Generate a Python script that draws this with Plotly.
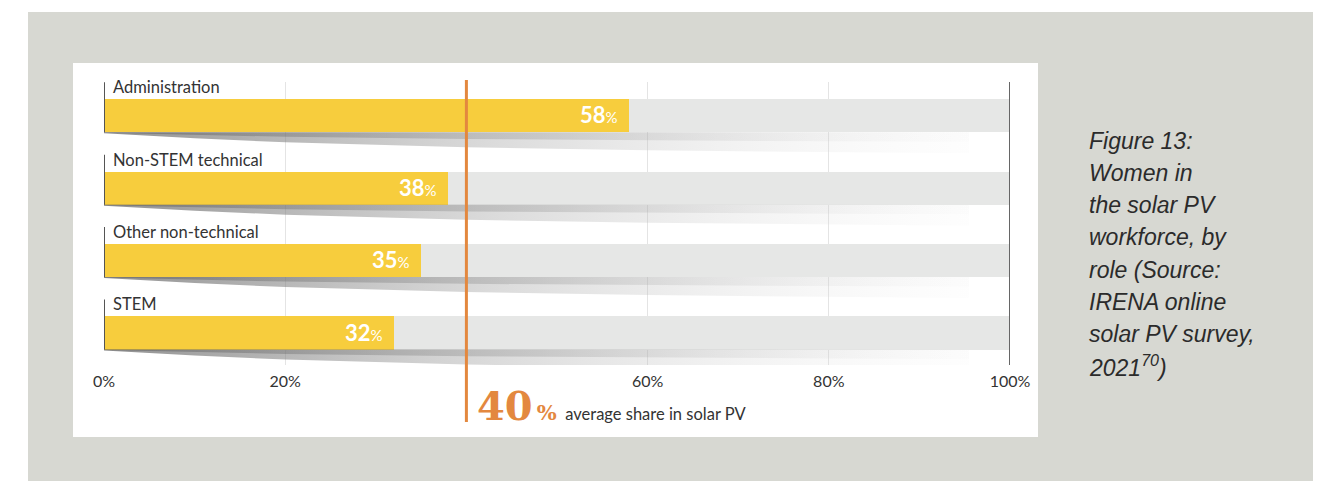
import plotly.graph_objects as go

# Women in the solar PV workforce, by role (%)
roles = ["Administration", "Non-STEM technical", "Other non-technical", "STEM"]
women_share = [58, 38, 35, 32]
avg_share = 40
tick_vals = [0, 20, 60, 80, 100]
tick_text = ["0%", "20%", "60%", "80%", "100%"]
caption_lines = ["Figure 13:", "Women in", "the solar PV", "workforce, by",
                 "role (Source:", "IRENA online", "solar PV survey,", "2021<sup>70</sup>)"]

W, H = 1322, 481
YELLOW = "#f7cd3d"
TRACK = "#e6e7e6"
ORANGE = "#e3883f"
TEXT = "#333333"
PANEL = "#d7d8d2"
BAR_W = 0.456
PX_PER_UNIT = 72.4


def py(px):
    # pixel row -> paper y
    return 1 - px / H


n = len(roles)
ypos = [n - 1 - i for i in range(n)]

fig = go.Figure()

# tapered shadow under every bar
shadow_x = [0, 10, 20, 40, 60, 80, 95.5]
shadow_depth = [1, 6, 10, 15, 18, 20, 21]
for y in ypos:
    yb = y - BAR_W / 2
    xs = shadow_x + [95.5, 0]
    ys = [yb - d / PX_PER_UNIT for d in shadow_depth] + [yb, yb]
    fig.add_trace(go.Scatter(
        x=xs, y=ys, mode="lines", line=dict(width=0), fill="toself",
        fillgradient=dict(type="horizontal", colorscale=[
            [0, "rgba(95,95,95,0.7)"], [0.45, "rgba(165,165,165,0.4)"],
            [1, "rgba(235,235,235,0.08)"]]),
        hoverinfo="skip", showlegend=False))
    ys2 = [yb - 0.45 * d / PX_PER_UNIT for d in shadow_depth] + [yb, yb]
    fig.add_trace(go.Scatter(
        x=xs, y=ys2, mode="lines", line=dict(width=0), fill="toself",
        fillgradient=dict(type="horizontal", colorscale=[
            [0, "rgba(80,80,80,0.45)"], [0.5, "rgba(140,140,140,0.3)"],
            [1, "rgba(220,220,220,0.05)"]]),
        hoverinfo="skip", showlegend=False))

fig.add_trace(go.Bar(x=[100] * n, y=ypos, orientation="h", width=BAR_W,
                     marker=dict(color=TRACK, line=dict(width=0)),
                     hoverinfo="skip", showlegend=False))
fig.add_trace(go.Bar(x=women_share, y=ypos, orientation="h", width=BAR_W,
                     marker=dict(color=YELLOW, line=dict(width=0)),
                     hovertemplate="%{x}%<extra></extra>", showlegend=False))

shapes = [
    dict(type="rect", xref="paper", yref="paper", x0=28 / W, x1=1313 / W,
         y0=py(481), y1=py(12), fillcolor=PANEL, line=dict(width=0), layer="below"),
    dict(type="rect", xref="paper", yref="paper", x0=73 / W, x1=1038 / W,
         y0=py(437), y1=py(63), fillcolor="white", line=dict(width=0), layer="below"),
    dict(type="line", xref="x", yref="paper", x0=100, x1=100,
         y0=py(365), y1=py(82), line=dict(color="#666666", width=2)),
    dict(type="line", xref="x", yref="paper", x0=avg_share, x1=avg_share,
         y0=py(422), y1=py(80), line=dict(color=ORANGE, width=3)),
]
annotations = []
for y, role, v in zip(ypos, roles, women_share):
    shapes.append(dict(type="line", xref="x", yref="y", x0=0, x1=0,
                       y0=y - BAR_W / 2, y1=y + BAR_W / 2 + 0.235,
                       line=dict(color="#555555", width=2)))
    annotations.append(dict(
        x=0, y=y + BAR_W / 2, xref="x", yref="y", xanchor="left", yanchor="middle",
        xshift=7, yshift=12, text=role, showarrow=False,
        font=dict(family="Lato", size=16.5, color=TEXT)))
    annotations.append(dict(
        x=v, y=y, xref="x", yref="y", xanchor="right", yanchor="middle",
        xshift=-9, yshift=1, showarrow=False,
        text=f"<b>{v}</b><span style='font-size:15px'>%</span>",
        font=dict(family="Lato", size=22, color="white")))

annotations.append(dict(
    x=avg_share, y=py(405), xref="x", yref="paper", xanchor="left", yanchor="middle",
    xshift=9, showarrow=False,
    text=("<span style='font-family:DejaVu Serif;font-size:40px;"
          f"font-weight:bold;fill:{ORANGE}'>{avg_share}</span>"
          f"<span style='font-family:DejaVu Serif;font-size:21px;"
          f"font-weight:bold;fill:{ORANGE}'>&#8201;%</span>"
          "  average share in solar PV"),
    font=dict(family="Lato", size=16.5, color=TEXT)))

for k, line in enumerate(caption_lines):
    annotations.append(dict(
        x=1087 / W, y=py(141.5 + 32 * k), xref="paper", yref="paper",
        xanchor="left", yanchor="middle", showarrow=False, text=line,
        font=dict(family="Liberation Sans", size=23, color="#2b2b2b", style="italic")))

fig.update_layout(
    width=W, height=H, autosize=False,
    margin=dict(l=0, r=0, t=0, b=0, pad=0),
    paper_bgcolor="white", plot_bgcolor="rgba(0,0,0,0)",
    barmode="overlay", bargap=0,
    shapes=shapes, annotations=annotations,
    xaxis=dict(domain=[104 / W, 1010 / W], range=[0, 100], tickvals=tick_vals,
               ticktext=tick_text, showgrid=True, gridcolor="#e4e4e4", gridwidth=1,
               zeroline=False, showline=False, ticks="", ticklabelstandoff=5,
               tickfont=dict(family="Lato", size=16, color=TEXT), fixedrange=True,
               automargin=False),
    yaxis=dict(domain=[py(365), py(82)], range=[-0.442, 3.467], showgrid=False,
               zeroline=False, showticklabels=False, fixedrange=True, automargin=False),
)

fig.write_html("out.html",
               config={"responsive": False, "displayModeBar": False},
               post_script="document.body.style.margin='0';document.body.style.overflow='hidden';")
